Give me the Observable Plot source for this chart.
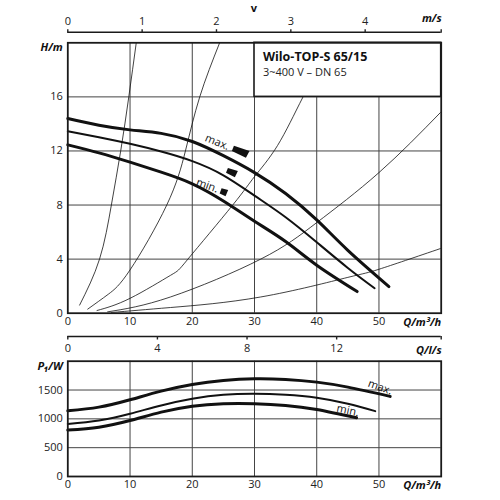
<!DOCTYPE html>
<html><head><meta charset="utf-8">
<script src="https://cdn.jsdelivr.net/npm/d3@7"></script>
<script src="https://cdn.jsdelivr.net/npm/@observablehq/plot@0.6"></script>
<style>
body{margin:0;background:#fff;}
#chart{width:500px;height:500px;overflow:hidden;}
#chart svg{display:block;}
</style></head><body><div id="chart"></div>
<script>
const FONT = "'Open Sans','Noto Sans',sans-serif";

// ---- axes / ticks ----
const qGrid = [10, 20, 30, 40, 50];
const qTickLabels = [0, 10, 20, 30, 40, 50];
const hTicks = [0, 4, 8, 12, 16];
const hGrid = [4, 8, 12, 16];
const vTicks = [0, 1, 2, 3, 4];        // m/s
const lsTicks = [0, 4, 8, 12];         // l/s
const pTicks = [0, 500, 1000, 1500];
const pGrid = [500, 1000, 1500];
const dnMetres = 0.065;                // DN 65 pipe for velocity axis
const qPerV = Math.PI * dnMetres * dnMetres / 4 * 3600; // m³/h per m/s
const qPerLs = 3.6;                    // m³/h per l/s

// ---- pump head curves (Q m³/h, H m) ----
const maxQ = [0, 5, 10, 15, 20, 25, 30, 35, 40, 45, 51.6];
const maxH = [14.4, 13.9, 13.56, 13.3, 12.7, 11.65, 10.4, 8.85, 6.9, 4.65, 1.97];
const midQ = [0, 5, 10, 15, 20, 25, 30, 35, 40, 45, 49.3];
const midH = [13.46, 13.02, 12.53, 11.96, 11.25, 10.2, 8.7, 7.1, 5.25, 3.35, 1.85];
const minQ = [0, 5, 10, 15, 20, 25, 30, 35, 40, 46.5];
const minH = [12.45, 11.86, 11.17, 10.43, 9.57, 8.3, 6.8, 5.3, 3.55, 1.6];

// ---- system curves (thin) ----
const sys1Q = [1.9, 5.1, 7, 8.5, 9.8, 11];
const sys1H = [0.6, 4, 8, 12, 16, 20];
const sys2Q = [3.2, 6.5, 10, 15.9, 18.9, 21.2, 24.4];
const sys2H = [0.3, 1.4, 3.2, 8, 12, 16, 20];
const sys3Q = [4.7, 10, 16.5, 19.3, 26.5, 30, 33.7, 37.8, 42.5];
const sys3H = [0.2, 1.1, 2.8, 4, 8, 10.1, 12.4, 16, 20];
const sys4Q = [6.4, 16.5, 31, 40, 50, 60];
const sys4H = [0.1, 1.2, 4, 6.7, 10.4, 14.9];
const sys5Q = [7, 16.5, 31, 45, 50, 60];
const sys5H = [0.05, 0.42, 1.2, 2.65, 3.25, 4.8];

// ---- power curves (Q m³/h, P1 W) ----
const pMaxQ = [0, 5, 10, 15, 20, 25, 30, 35, 40, 45, 51.8];
const pMaxP = [1140, 1203, 1331, 1481, 1597, 1667, 1696, 1684, 1637, 1550, 1389];
const pMidQ = [0, 5, 10, 15, 20, 25, 30, 35, 40, 45, 49.4];
const pMidP = [912, 972, 1088, 1233, 1349, 1418, 1436, 1418, 1366, 1262, 1134];
const pMinQ = [0, 5, 10, 15, 20, 25, 30, 35, 40, 46.4];
const pMinP = [805, 856, 972, 1116, 1220, 1262, 1262, 1233, 1163, 1019];

// ---- annotations ----
const titleText = "Wilo-TOP-S 65/15";
const subtitleText = "3~400 V – DN 65";
const titleBoxQ = [30, 60];
const titleBoxH = [16, 20];
const headLabelText = ["max.", "min."];
const headLabelQ = [24.0, 22.4];
const headLabelH = [12.65, 9.45];
const headLabelRot = [22, 20];
const markQ = [27.75, 26.35, 25.07];
const markH = [11.97, 10.42, 8.96];
const powerLabelText = ["max.", "min."];
const powerLabelQ = [50.2, 45.0];
const powerLabelP = [1550, 1146];
const powerLabelRot = [20, 12];

const rows = (qs, ys) => qs.map((q, i) => ({q, y: ys[i]}));
const sysRows = [[sys1Q, sys1H], [sys2Q, sys2H], [sys3Q, sys3H], [sys4Q, sys4H], [sys5Q, sys5H]]
  .flatMap(([qs, hs], k) => qs.map((q, i) => ({q, y: hs[i], id: k})));

// wedge-shaped speed symbols
function wedge(len, hl, hr, angleDeg) {
  const a = angleDeg * Math.PI / 180, c = Math.cos(a), s = Math.sin(a);
  const pts = [[-len, -hl], [len, -hr], [len * 0.9, hr], [-len, hl]];
  return {draw(ctx, size) {
    const k = Math.sqrt(size / Math.PI);
    pts.forEach(([x, y], i) => {
      const X = (x * c - y * s) * k, Y = (x * s + y * c) * k;
      i ? ctx.lineTo(X, Y) : ctx.moveTo(X, Y);
    });
    ctx.closePath();
  }};
}
const symbols = [wedge(8.2, 2.8, 3.8, 22), wedge(5.2, 2.6, 3.4, 22), wedge(3.4, 2.8, 3.4, 20)];

const gridStyle = {stroke: "#444", strokeOpacity: 1, strokeWidth: 1};
const unitStyle = {fontWeight: "bold", fontStyle: "italic", fontSize: 11, fill: "#111"};
const CURVE = "natural";

const headChart = Plot.plot({
  width: 500, height: 330,
  marginTop: 42.3, marginBottom: 17.3, marginLeft: 67.3, marginRight: 59.3,
  x: {domain: [0, 60], label: null},
  y: {domain: [0, 20], label: null},
  style: {fontFamily: FONT, fontSize: "11px", color: "#222", background: "white"},
  marks: [
    Plot.gridX(qGrid, gridStyle),
    Plot.gridY(hGrid, gridStyle),
    Plot.line(sysRows, {x: "q", y: "y", z: "id", curve: CURVE, stroke: "#111", strokeWidth: 0.8, clip: true}),
    Plot.rect([0], {x1: titleBoxQ[0], x2: titleBoxQ[1], y1: titleBoxH[0], y2: titleBoxH[1], fill: "white", stroke: "#1a1a1a", strokeWidth: 1.6}),
    Plot.text([titleText], {x: titleBoxQ[0], y: titleBoxH[1], text: d => d, textAnchor: "start", dx: 8.4, dy: 14.4, fontWeight: "bold", fontSize: 12.5, fill: "#111"}),
    Plot.text([subtitleText], {x: titleBoxQ[0], y: titleBoxH[1], text: d => d, textAnchor: "start", dx: 8.4, dy: 29.4, fontSize: 11, fill: "#222"}),
    Plot.line(rows(maxQ, maxH), {x: "q", y: "y", curve: CURVE, stroke: "#111", strokeWidth: 3}),
    Plot.line(rows(midQ, midH), {x: "q", y: "y", curve: CURVE, stroke: "#111", strokeWidth: 2}),
    Plot.line(rows(minQ, minH), {x: "q", y: "y", curve: CURVE, stroke: "#111", strokeWidth: 3}),
    ...markQ.map((q, i) => Plot.dot([0], {x: q, y: markH[i], r: 1, symbol: symbols[i], fill: "#111", stroke: "none"})),
    Plot.text(headLabelText, {x: (d, i) => headLabelQ[i], y: (d, i) => headLabelH[i], rotate: (d, i) => headLabelRot[i], text: d => d, fontSize: 11, fill: "#111"}),
    Plot.frame({stroke: "#1a1a1a", strokeWidth: 1.8}),
    Plot.axisY(hTicks, {anchor: "left", label: null, tickSize: 0, tickPadding: 5, fontSize: 11}),
    Plot.text(["H/m"], {x: 0, y: 20, text: d => d, textAnchor: "end", dx: -5, dy: 4.5, ...unitStyle}),
    Plot.axisX(qTickLabels, {anchor: "bottom", label: null, tickSize: 0, tickPadding: 4, fontSize: 11}),
    Plot.text(["Q/m³/h"], {x: 60, y: 0, text: d => d, textAnchor: "end", lineAnchor: "top", dy: 4.5, ...unitStyle}),
    // velocity axis above
    Plot.ruleY([20], {dy: -10.6, stroke: "#1a1a1a", strokeWidth: 1.4}),
    Plot.axisX(vTicks.map(v => v * qPerV), {anchor: "top", label: null, dy: -10.6, tickSize: 3.5, tickPadding: 4, strokeWidth: 1.4, fontSize: 11, tickFormat: q => String(Math.round(q / qPerV))}),
    Plot.axisX([60], {anchor: "top", label: null, dy: -10.6, tickSize: 3.5, strokeWidth: 1.4, tickFormat: () => ""}),
    Plot.text(["m/s"], {x: 60, y: 20, text: d => d, textAnchor: "end", dy: -24, dx: 0.5, ...unitStyle}),
    Plot.text(["v"], {x: 29.9, y: 20, text: d => d, dy: -34.5, fontWeight: "bold", fontSize: 11, fill: "#111"})
  ]
});

const powerChart = Plot.plot({
  width: 500, height: 170,
  marginTop: 30.7, marginBottom: 24, marginLeft: 67.3, marginRight: 59.3,
  x: {domain: [0, 60], label: null},
  y: {domain: [0, 2000], label: null},
  style: {fontFamily: FONT, fontSize: "11px", color: "#222", background: "white"},
  marks: [
    Plot.gridX(qGrid, gridStyle),
    Plot.gridY(pGrid, gridStyle),
    Plot.line(rows(pMaxQ, pMaxP), {x: "q", y: "y", curve: CURVE, stroke: "#111", strokeWidth: 3}),
    Plot.line(rows(pMidQ, pMidP), {x: "q", y: "y", curve: CURVE, stroke: "#111", strokeWidth: 2}),
    Plot.line(rows(pMinQ, pMinP), {x: "q", y: "y", curve: CURVE, stroke: "#111", strokeWidth: 3}),
    Plot.text(powerLabelText, {x: (d, i) => powerLabelQ[i], y: (d, i) => powerLabelP[i], rotate: (d, i) => powerLabelRot[i], text: d => d, fontSize: 11, fill: "#111"}),
    Plot.frame({stroke: "#1a1a1a", strokeWidth: 1.8}),
    Plot.axisY(pTicks, {anchor: "left", label: null, tickSize: 0, tickPadding: 5, fontSize: 11, tickFormat: d => String(d)}),
    Plot.text(["P₁/W"], {x: 0, y: 2000, text: d => d, textAnchor: "end", dx: -5, dy: 5.5, ...unitStyle}),
    Plot.axisX(qTickLabels, {anchor: "bottom", label: null, tickSize: 0, tickPadding: 4, fontSize: 11}),
    Plot.text(["Q/m³/h"], {x: 60, y: 0, text: d => d, textAnchor: "end", lineAnchor: "top", dy: 4.5, ...unitStyle}),
    // l/s axis above
    Plot.ruleY([2000], {dy: -24.7, stroke: "#1a1a1a", strokeWidth: 1.4}),
    Plot.axisX(lsTicks.map(l => l * qPerLs), {anchor: "bottom", label: null, dy: -140, tickSize: 3.5, tickPadding: 4, strokeWidth: 1.4, fontSize: 11, tickFormat: q => String(Math.round(q / qPerLs))}),
    Plot.axisX([60], {anchor: "bottom", label: null, dy: -140, tickSize: 3.5, strokeWidth: 1.4, tickFormat: () => ""}),
    Plot.text(["Q/l/s"], {x: 60, y: 2000, text: d => d, textAnchor: "end", dx: 0.5, dy: -11, ...unitStyle})
  ]
});

const root = document.getElementById("chart");
root.append(headChart, powerChart);
</script>
</body></html>
